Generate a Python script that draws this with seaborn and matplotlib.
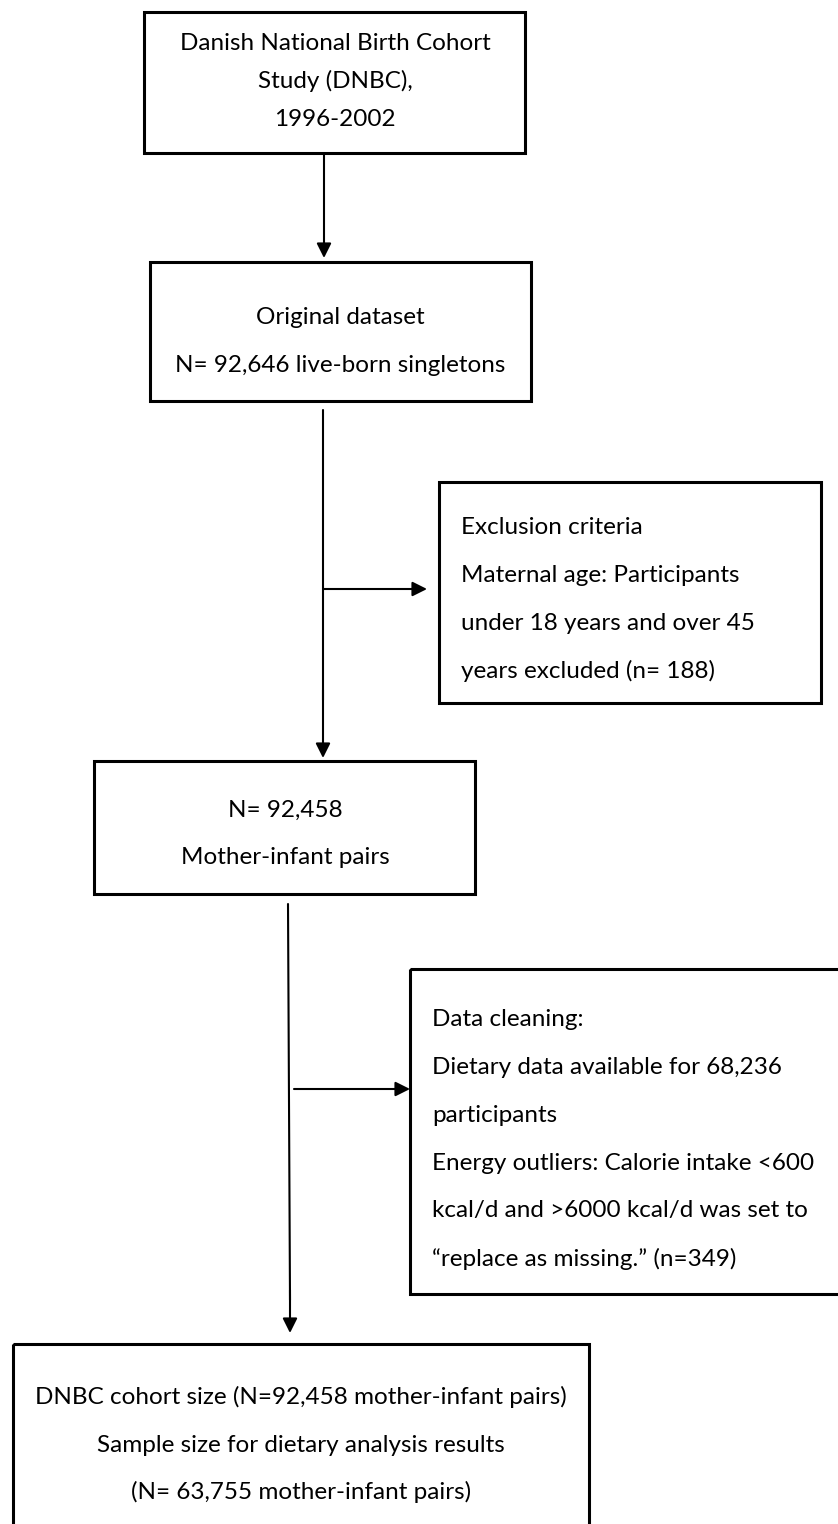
import matplotlib
matplotlib.use("Agg")
import matplotlib.pyplot as plt
from matplotlib.patches import Rectangle
import seaborn as sns

# ---- content ----
box1_lines = ["Danish National Birth Cohort", "Study (DNBC),", "1996-2002"]
box2_lines = ["Original dataset", "N= 92,646 live-born singletons"]
box3_lines = ["Exclusion criteria", "Maternal age: Participants",
              "under 18 years and over 45", "years excluded (n= 188)"]
box4_lines = ["N= 92,458", "Mother-infant pairs"]
box5_lines = ["Data cleaning:", "Dietary data available for 68,236", "participants",
              "Energy outliers: Calorie intake <600", "kcal/d and >6000 kcal/d was set to",
              "\u201creplace as missing.\u201d (n=349)"]
box6_lines = ["DNBC cohort size (N=92,458 mother-infant pairs)",
              "Sample size for dietary analysis results",
              "(N= 63,755 mother-infant pairs)"]

sns.set_theme(style="white")
plt.rcParams['font.family'] = ['Lato', 'DejaVu Sans']

W, H = 838, 1524
fig = plt.figure(figsize=(W / 100, H / 100), dpi=100)
ax = fig.add_axes([0, 0, 1, 1])
ax.set_xlim(0, W)
ax.set_ylim(H, 0)
ax.axis("off")

FS = 17.5
BOX_LW = 2.2
ARR_LW = 1.5


def box(x0, y0, x1, y1):
    ax.add_patch(Rectangle((x0, y0), x1 - x0, y1 - y0, fill=False,
                           edgecolor="black", lw=BOX_LW, clip_on=False))


def lines_text(lines, x, ys, ha="center"):
    for t, y in zip(lines, ys):
        ax.text(x, y, t, ha=ha, va="center", fontsize=FS, color="black")


def arrow(p0, p1):
    ax.annotate("", xy=p1, xytext=p0,
                arrowprops=dict(arrowstyle="-|>", lw=ARR_LW, color="black",
                                mutation_scale=22, shrinkA=0, shrinkB=0))


# Box 1
box(144, 12, 525, 153)
lines_text(box1_lines, 335, [44, 81, 119])
arrow((324, 153), (324, 258))

# Box 2
box(150, 262, 531, 401)
lines_text(box2_lines, 340, [317, 365])
ax.plot([323, 323], [410, 700], color="black", lw=ARR_LW)
arrow((323, 690), (323, 758))
arrow((323, 589), (427, 589))

# Box 3
box(439, 482, 821, 703)
lines_text(box3_lines, 461, [527, 575, 623, 671], ha="left")

# Box 4
box(94, 761, 475, 894)
lines_text(box4_lines, 285, [810, 857])
ax.plot([288, 290], [904, 1300], color="black", lw=ARR_LW)
arrow((290, 1290), (290, 1333))
arrow((294, 1089), (410, 1089))

# Box 5
box(410, 969, 845, 1294)
lines_text(box5_lines, 432, [1019, 1067, 1115, 1163, 1211, 1259], ha="left")

# Box 6
box(13, 1344, 589, 1540)
lines_text(box6_lines, 301, [1397, 1445, 1492])

fig.savefig("out.png", dpi=100, facecolor="white")
